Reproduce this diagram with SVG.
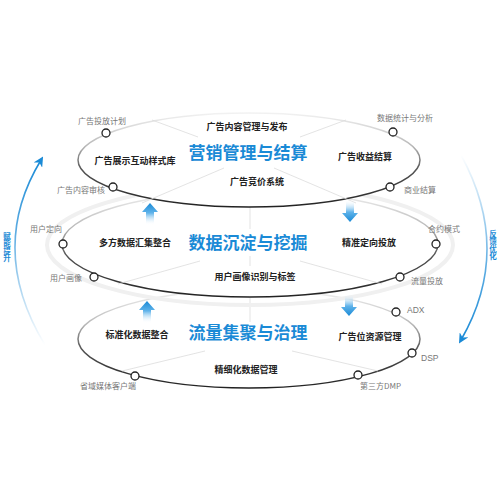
<svg xmlns="http://www.w3.org/2000/svg" width="500" height="500" viewBox="0 0 500 500">
<defs>
<linearGradient id="ring" x1="0" y1="0" x2="0" y2="1">
<stop offset="0" stop-color="#f2f2f2"/>
<stop offset="0.35" stop-color="#b8b8b8"/>
<stop offset="0.6" stop-color="#555"/>
<stop offset="1" stop-color="#222"/>
</linearGradient>
<linearGradient id="upArr" x1="0" y1="0" x2="0" y2="1">
<stop offset="0" stop-color="#1a8ad6"/>
<stop offset="0.45" stop-color="#5fb3ea"/>
<stop offset="1" stop-color="#ffffff" stop-opacity="0"/>
</linearGradient>
<linearGradient id="downArr" x1="0" y1="0" x2="0" y2="1">
<stop offset="0" stop-color="#ffffff" stop-opacity="0"/>
<stop offset="0.55" stop-color="#5fb3ea"/>
<stop offset="1" stop-color="#1a8ad6"/>
</linearGradient>
<linearGradient id="leftArc" x1="0" y1="1" x2="0" y2="0">
<stop offset="0" stop-color="#1a8ad6" stop-opacity="0"/>
<stop offset="0.6" stop-color="#1a8ad6" stop-opacity="0.7"/>
<stop offset="1" stop-color="#1a8ad6"/>
</linearGradient>
<linearGradient id="rightArc" x1="0" y1="0" x2="0" y2="1">
<stop offset="0" stop-color="#1a8ad6" stop-opacity="0"/>
<stop offset="0.6" stop-color="#1a8ad6" stop-opacity="0.7"/>
<stop offset="1" stop-color="#1a8ad6"/>
</linearGradient>
<marker id="head" viewBox="0 0 10 10" refX="6" refY="5" markerWidth="10" markerHeight="10" markerUnits="userSpaceOnUse" orient="auto">
<path d="M0,0 L10,5 L0,10 L3,5 Z" fill="#1a8ad6"/>
</marker>
<path id="upA" d="M0,0 L8,9 L4,9 L4,22 L-4,22 L-4,9 L-8,9 Z"/>
<path id="downA" d="M0,22 L8,13 L4,13 L4,0 L-4,0 L-4,13 L-8,13 Z"/>
</defs>
<style>
.ell{fill:#fff;stroke:url(#ring);stroke-width:1.5}
.spoke{stroke:#dcdcdc;stroke-width:0.8;fill:none}
.dot{fill:#fff;stroke:#222;stroke-width:1.3}
.lbl{font-family:"Noto Sans CJK SC","Liberation Sans",sans-serif;font-size:8px;fill:#777}
.lat{font-family:"Liberation Sans","Noto Sans CJK SC",sans-serif;font-size:8.5px;fill:#777}
.item{font-family:"Noto Sans CJK SC","Liberation Sans",sans-serif;font-size:9px;font-weight:700;fill:#222;text-anchor:middle}
.title{font-family:"Noto Sans CJK SC","Liberation Sans",sans-serif;font-size:17px;font-weight:700;fill:#1a8ad6;text-anchor:middle}
.side{font-family:"Noto Sans CJK SC","Liberation Sans",sans-serif;font-size:7.5px;font-weight:700;fill:#1a8ad6;writing-mode:vertical-rl}
</style>

<g id="layer-bottom">
<ellipse class="ell" cx="249" cy="339" rx="171" ry="49"/>
<line class="spoke" x1="250" y1="298" x2="250" y2="322"/>
<line class="spoke" x1="205" y1="351" x2="122" y2="371"/>
<line class="spoke" x1="292" y1="351" x2="378" y2="371"/>
</g>

<g id="halo">
<ellipse cx="250" cy="245" rx="203" ry="60" fill="none" stroke="#f0f0f0" stroke-width="4"/>
</g>

<g id="layer-middle">
<ellipse class="ell" cx="250" cy="244" rx="188" ry="53"/>
<line class="spoke" x1="250" y1="205" x2="250" y2="229"/>
<line class="spoke" x1="250" y1="256" x2="250" y2="266"/>
<line class="spoke" x1="200" y1="261" x2="118" y2="284"/>
<line class="spoke" x1="300" y1="261" x2="382" y2="284"/>
</g>

<g id="layer-top">
<ellipse class="ell" cx="249" cy="160" rx="171" ry="47"/>
<line class="spoke" x1="198" y1="137" x2="152" y2="120"/>
<line class="spoke" x1="300" y1="137" x2="346" y2="120"/>
<line class="spoke" x1="224" y1="168" x2="142" y2="203"/>
<line class="spoke" x1="274" y1="168" x2="356" y2="203"/>
</g>

<g id="connectors">
<use href="#upA" x="150" y="203" fill="url(#upArr)"/>
<use href="#downA" x="350" y="200" fill="url(#downArr)"/>
<use href="#upA" x="147" y="301" fill="url(#upArr)"/>
<use href="#downA" x="349" y="294" fill="url(#downArr)"/>
<path d="M45,345 Q-13,249 41,160" fill="none" stroke="url(#leftArc)" stroke-width="1.6" marker-end="url(#head)"/>
<path d="M461,155 Q513,250 461,340" fill="none" stroke="url(#rightArc)" stroke-width="1.6" marker-end="url(#head)"/>
</g>

<g id="top-nodes">
<circle class="dot" cx="106" cy="133" r="4"/>
<text class="lbl" x="78" y="124">广告投放计划</text>
<circle class="dot" cx="113" cy="187" r="4"/>
<text class="lbl" x="57" y="193">广告内容审核</text>
<circle class="dot" cx="393" cy="132" r="4"/>
<text class="lbl" x="377" y="121">数据统计与分析</text>
<circle class="dot" cx="390" cy="187" r="4"/>
<text class="lbl" x="404" y="193">商业结算</text>
<text class="item" x="247" y="130">广告内容管理与发布</text>
<text class="title" x="248" y="159">营销管理与结算</text>
<text class="item" x="135" y="164">广告展示互动样式库</text>
<text class="item" x="365" y="160">广告收益结算</text>
<text class="item" x="257" y="185">广告竞价系统</text>
</g>

<g id="middle-nodes">
<circle class="dot" cx="63" cy="244" r="4"/>
<text class="lbl" x="30" y="232">用户定向</text>
<circle class="dot" cx="94" cy="277" r="4"/>
<text class="lbl" x="50" y="281">用户画像</text>
<circle class="dot" cx="436" cy="244" r="4"/>
<text class="lbl" x="428" y="232">合约模式</text>
<circle class="dot" cx="400" cy="277" r="4"/>
<text class="lbl" x="411" y="284">流量投放</text>
<text class="title" x="248" y="249">数据沉淀与挖掘</text>
<text class="item" x="135" y="246">多方数据汇集整合</text>
<text class="item" x="369" y="246">精准定向投放</text>
<text class="item" x="255" y="280">用户画像识别与标签</text>
</g>

<g id="bottom-nodes">
<circle class="dot" cx="396" cy="312" r="4"/>
<text class="lat" x="407" y="313">ADX</text>
<circle class="dot" cx="412" cy="353" r="4"/>
<text class="lat" x="421" y="361">DSP</text>
<circle class="dot" cx="358" cy="375" r="4"/>
<text class="lbl" x="360" y="389">第三方DMP</text>
<circle class="dot" cx="135" cy="376" r="4"/>
<text class="lbl" x="80" y="389">省域媒体客户端</text>
<text class="title" x="248" y="339">流量集聚与治理</text>
<text class="item" x="137" y="338">标准化数据整合</text>
<text class="item" x="370" y="340">广告位资源管理</text>
<text class="item" x="246" y="373">精细化数据管理</text>
</g>

<g id="side-labels">
<text class="side" x="7" y="232">赋能提升</text>
<text class="side" x="493" y="230">反馈优化</text>
</g>
</svg>
